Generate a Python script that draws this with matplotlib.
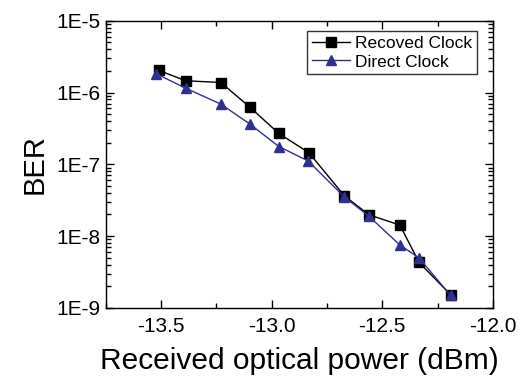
import matplotlib
matplotlib.use("Agg")
import matplotlib.pyplot as plt
from matplotlib.ticker import FixedLocator, LogLocator, NullFormatter, MultipleLocator

plt.rcParams['font.family'] = ['Liberation Sans', 'DejaVu Sans']

power_recovered = [-13.508, -13.388, -13.229, -13.099, -12.967, -12.831, -12.671, -12.560, -12.420, -12.333, -12.191]
ber_recovered = [2.03e-6, 1.46e-6, 1.38e-6, 6.3e-7, 2.69e-7, 1.45e-7, 3.64e-8, 1.98e-8, 1.42e-8, 4.28e-9, 1.52e-9]

power_direct = [-13.52, -13.388, -13.229, -13.099, -12.967, -12.834, -12.671, -12.561, -12.421, -12.333, -12.191]
ber_direct = [1.82e-6, 1.15e-6, 6.9e-7, 3.66e-7, 1.77e-7, 1.11e-7, 3.5e-8, 1.9e-8, 7.55e-9, 4.93e-9, 1.49e-9]

x_ticks = [-13.5, -13.0, -12.5, -12.0]
x_tick_labels = ["-13.5", "-13.0", "-12.5", "-12.0"]
y_ticks = [1e-9, 1e-8, 1e-7, 1e-6, 1e-5]
y_tick_labels = ["1E-9", "1E-8", "1E-7", "1E-6", "1E-5"]

fig = plt.figure(figsize=(5.21, 3.80), dpi=100)
ax = fig.add_axes([0.2025, 0.19, 0.7435, 0.7553])

ax.plot(power_recovered, ber_recovered, color='black', lw=1.0, marker='s', ms=6.5,
        mfc='black', mec='black', label='Recoved Clock')
ax.plot(power_direct, ber_direct, color='#2e3192', lw=1.0, marker='^', ms=7,
        mfc='#2e3192', mec='#2e3192', label='Direct Clock')

ax.set_yscale('log')
ax.set_xlim(-13.75, -12.0)
ax.set_ylim(1e-9, 1e-5)

ax.xaxis.set_major_locator(FixedLocator(x_ticks))
ax.set_xticklabels(x_tick_labels)
ax.xaxis.set_minor_locator(MultipleLocator(0.25))
ax.yaxis.set_major_locator(FixedLocator(y_ticks))
ax.set_yticklabels(y_tick_labels)
ax.yaxis.set_minor_locator(LogLocator(base=10, subs=range(2, 10), numticks=20))
ax.yaxis.set_minor_formatter(NullFormatter())

ax.tick_params(which='both', direction='in', top=True, right=True, width=1.0)
ax.tick_params(which='major', length=6, labelsize=15)
ax.tick_params(which='minor', length=3.5)
ax.tick_params(axis='y', which='major', pad=3.5)
ax.tick_params(axis='x', which='major', pad=6.5)
for s in ax.spines.values():
    s.set_linewidth(1.0)

ax.set_xlabel('Received optical power (dBm)', fontsize=21.5, labelpad=8)
ax.set_ylabel('BER', fontsize=21, labelpad=6)

leg = ax.legend(loc='upper right', bbox_to_anchor=(0.958, 0.963), fontsize=12.5,
                frameon=True, fancybox=False, edgecolor='black', borderpad=0.25,
                handlelength=2.2, handletextpad=0.3, labelspacing=0.2, borderaxespad=0)
leg.get_frame().set_linewidth(1.0)

fig.savefig('out.png', dpi=100)
